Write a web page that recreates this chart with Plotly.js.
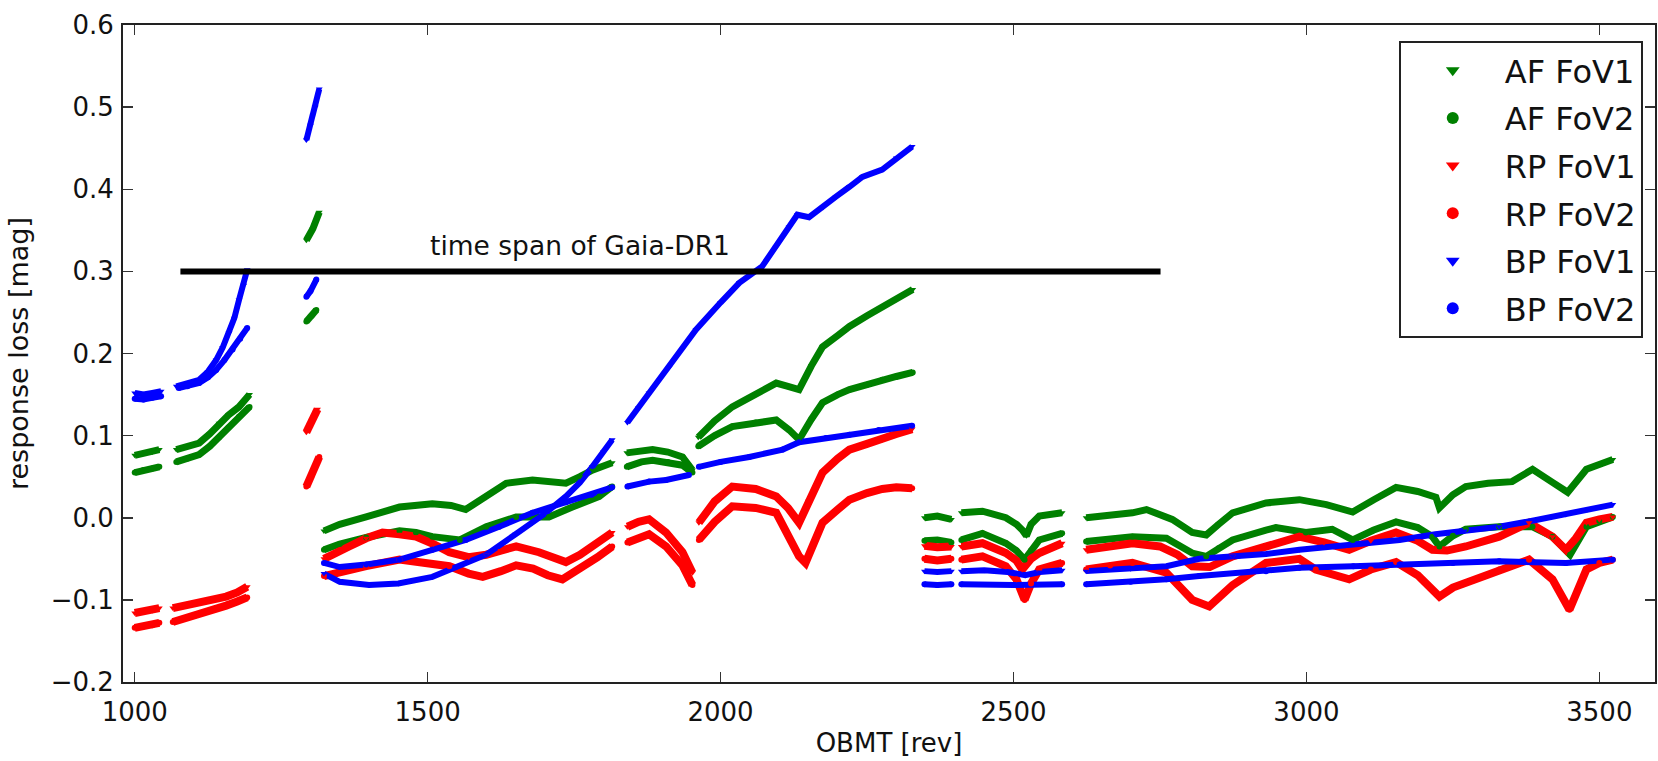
<!DOCTYPE html>
<html>
<head>
<meta charset="utf-8">
<script src="https://cdn.plot.ly/plotly-3.0.1.min.js"></script>
<style>html,body{margin:0;padding:0;background:#fff;}#chart{width:1658px;height:761px;}</style>
</head>
<body>
<div id="chart"></div>
<script>
const seriesNames = ["AF FoV1", "AF FoV2", "RP FoV1", "RP FoV2", "BP FoV1", "BP FoV2"];

const afFov1X = [1000,1015,1030,1042,null,1071,1090,1110,1128,1144,1160,1178,1196,null,1293,1304,1315,null,
  1323,1350,1395,1452,1508,1540,1565,1600,1634,1679,1710,1736,1760,1781,1815,null,
  1840,1865,1884,1910,1935,1952,null,
  1962,1990,2020,2060,2095,2115,2134,2155,2174,2200,2220,2250,2276,2300,2328,null,
  2348,2370,2394,null,2411,2447,2487,2505,2515,2522,2530,2544,2583,null,
  2624,2665,2703,2727,2771,2805,2829,2850,2874,2931,2988,3034,3079,3115,3153,3190,3221,3227,3250,3272,3310,3351,3386,3420,3446,3478,3500,3523];
const afFov1Y = [0.076,0.079,0.080,0.083,null,0.083,0.086,0.091,0.102,0.115,0.125,0.135,0.150,null,0.338,0.352,0.372,null,
  -0.016,-0.008,0.001,0.013,0.017,0.015,0.010,0.025,0.042,0.046,0.044,0.042,0.050,0.058,0.067,null,
  0.079,0.082,0.083,0.080,0.074,0.058,null,
  0.098,0.118,0.135,0.150,0.164,0.160,0.156,0.185,0.208,0.222,0.233,0.246,0.257,0.266,0.278,null,
  0.000,0.002,-0.002,null,0.006,0.008,0.000,-0.008,-0.015,-0.022,-0.008,0.002,0.006,null,
  0.000,0.003,0.006,0.010,-0.002,-0.018,-0.021,-0.008,0.006,0.018,0.022,0.016,0.007,0.022,0.037,0.032,0.025,0.012,0.028,0.038,0.042,0.044,0.059,0.043,0.031,0.059,0.066,0.071];

const afFov2X = [1000,1015,1030,1042,null,1071,1090,1110,1128,1144,1160,1178,1196,null,1293,1302,1310,null,
  1323,1350,1395,1452,1480,1508,1555,1600,1651,1707,1747,1793,1815,null,
  1840,1865,1884,1910,1935,1952,null,
  1962,1990,2020,2060,2095,2117,2134,2155,2174,2200,2220,2250,2276,2300,2328,null,
  2348,2370,2394,null,2411,2447,2487,2505,2519,2530,2544,2583,null,
  2624,2665,2703,2761,2805,2829,2850,2874,2931,2948,2999,3044,3079,3115,3153,3190,3215,3227,3250,3272,3329,3386,3420,3450,3478,3500,3523];
const afFov2Y = [0.055,0.058,0.060,0.062,null,0.068,0.072,0.077,0.087,0.098,0.110,0.123,0.135,null,0.239,0.246,0.253,null,
  -0.039,-0.032,-0.024,-0.016,-0.018,-0.023,-0.027,-0.011,0.001,0.001,0.013,0.026,0.038,null,
  0.062,0.068,0.070,0.068,0.064,0.055,null,
  0.087,0.100,0.111,0.116,0.119,0.107,0.095,0.120,0.140,0.150,0.156,0.162,0.168,0.172,0.177,null,
  -0.028,-0.027,-0.030,null,-0.027,-0.019,-0.031,-0.040,-0.051,-0.040,-0.027,-0.019,null,
  -0.029,-0.026,-0.023,-0.025,-0.043,-0.047,-0.037,-0.027,-0.015,-0.012,-0.018,-0.014,-0.027,-0.015,-0.005,-0.012,-0.023,-0.035,-0.022,-0.014,-0.011,-0.011,-0.023,-0.045,-0.011,-0.004,0.001];

const rpFov1X = [1000,1015,1030,1042,null,1065,1090,1110,1135,1156,1175,1192,null,1293,1303,1312,null,
  1323,1340,1366,1395,1423,1452,1480,1510,1537,1570,1600,1625,1651,1690,1720,1736,1760,1781,1815,null,
  1841,1860,1878,1907,1935,1952,null,
  1963,1990,2020,2060,2095,2115,2134,2150,2174,2200,2220,2250,2276,2300,2327,null,
  2348,2370,2394,null,2411,2447,2487,2505,2515,2530,2544,2583,null,
  2624,2665,2703,2750,2780,2805,2835,2874,2948,2988,3030,3073,3110,3153,3190,3215,3240,3272,3329,3380,3420,3443,3460,3478,3500,3523];
const rpFov1Y = [-0.116,-0.114,-0.113,-0.110,null,-0.110,-0.106,-0.103,-0.100,-0.096,-0.091,-0.084,null,0.104,0.118,0.132,null,
  -0.050,-0.045,-0.035,-0.025,-0.018,-0.020,-0.023,-0.032,-0.042,-0.048,-0.045,-0.040,-0.035,-0.042,-0.050,-0.054,-0.045,-0.035,-0.018,null,
  -0.011,-0.005,-0.002,-0.018,-0.042,-0.067,null,
  -0.006,0.020,0.038,0.035,0.026,0.012,-0.006,0.020,0.055,0.072,0.083,0.090,0.095,0.102,0.108,null,
  -0.034,-0.036,-0.035,null,-0.035,-0.031,-0.043,-0.052,-0.063,-0.050,-0.043,-0.031,null,
  -0.039,-0.034,-0.031,-0.035,-0.045,-0.059,-0.060,-0.047,-0.030,-0.023,-0.030,-0.039,-0.028,-0.018,-0.028,-0.039,-0.040,-0.035,-0.023,-0.006,-0.023,-0.039,-0.025,-0.006,-0.002,0.001];

const rpFov2X = [1000,1015,1030,1042,null,1065,1090,1110,1135,1156,1175,1192,null,1293,1304,1315,null,
  1323,1350,1395,1452,1490,1537,1570,1594,1625,1651,1680,1705,1730,1760,1790,1815,null,
  1841,1878,1907,1935,1952,null,
  1963,1990,2020,2060,2095,2115,2134,2145,2160,2174,2200,2220,2250,2276,2300,2327,null,
  2348,2370,2394,null,2411,2447,2487,2505,2519,2530,2544,2583,null,
  2624,2665,2703,2761,2785,2805,2834,2874,2931,2988,3016,3073,3110,3153,3190,3227,3250,3272,3329,3380,3420,3449,3465,3478,3500,3523];
const rpFov2Y = [-0.134,-0.132,-0.131,-0.128,null,-0.127,-0.122,-0.117,-0.112,-0.107,-0.102,-0.097,null,0.038,0.055,0.074,null,
  -0.071,-0.066,-0.059,-0.051,-0.055,-0.059,-0.068,-0.072,-0.065,-0.058,-0.062,-0.070,-0.075,-0.062,-0.048,-0.035,null,
  -0.030,-0.020,-0.035,-0.058,-0.082,null,
  -0.027,-0.005,0.014,0.012,0.006,-0.020,-0.047,-0.055,-0.030,-0.006,0.010,0.022,0.030,0.035,0.037,0.036,null,
  -0.050,-0.052,-0.050,null,-0.051,-0.047,-0.059,-0.075,-0.100,-0.080,-0.063,-0.055,null,
  -0.063,-0.058,-0.055,-0.067,-0.085,-0.100,-0.108,-0.082,-0.055,-0.050,-0.063,-0.075,-0.063,-0.054,-0.070,-0.096,-0.085,-0.079,-0.063,-0.051,-0.075,-0.112,-0.085,-0.063,-0.055,-0.051];

const bpFov1X = [1000,1015,1030,1045,null,1071,1090,1110,1125,1139,1150,1161,1170,1178,1186,1192,null,1293,1300,1308,1315,null,
  1323,1350,1400,1450,1508,1550,1600,1650,1679,1700,1736,1760,1781,1800,1815,null,
  1841,1860,1878,1912,1958,2000,2032,2071,2095,2117,2131,2151,2175,2197,2220,2242,2276,2300,2327,null,
  2348,2370,2394,null,2411,2450,2490,2520,2545,2583,null,
  2624,2700,2761,2817,2874,2931,2988,3050,3100,3159,3220,3270,3329,3390,3443,3480,3523];
const bpFov1Y = [0.152,0.150,0.152,0.154,null,0.160,0.163,0.168,0.178,0.192,0.207,0.225,0.243,0.265,0.283,0.302,null,0.460,0.478,0.500,0.522,null,
  -0.068,-0.078,-0.082,-0.080,-0.072,-0.060,-0.045,-0.020,-0.006,0.005,0.026,0.043,0.062,0.080,0.095,null,
  0.116,0.134,0.152,0.183,0.229,0.262,0.286,0.306,0.330,0.354,0.369,0.366,0.378,0.391,0.403,0.415,0.424,0.438,0.452,null,
  -0.065,-0.066,-0.065,null,-0.065,-0.064,-0.066,-0.070,-0.066,-0.064,null,
  -0.065,-0.062,-0.059,-0.050,-0.047,-0.044,-0.039,-0.035,-0.031,-0.027,-0.020,-0.016,-0.011,-0.003,0.004,0.010,0.016];

const bpFov2X = [1000,1015,1030,1045,null,1075,1090,1110,1125,1139,1153,1167,1180,1192,null,1293,1300,1310,null,
  1323,1350,1395,1452,1508,1565,1622,1679,1736,1780,1815,null,
  1841,1878,1907,1946,null,
  1963,2000,2049,2106,2134,2180,2220,2270,2327,null,
  2348,2370,2394,null,2411,2500,2583,null,
  2624,2700,2761,2817,2931,2988,3080,3159,3250,3329,3443,3523];
const bpFov2Y = [0.145,0.144,0.146,0.148,null,0.158,0.160,0.164,0.171,0.180,0.192,0.205,0.218,0.231,null,0.269,0.276,0.290,null,
  -0.055,-0.060,-0.057,-0.051,-0.039,-0.027,-0.011,0.006,0.019,0.028,0.037,null,
  0.038,0.044,0.046,0.052,null,
  0.062,0.068,0.074,0.083,0.092,0.097,0.101,0.107,0.112,null,
  -0.081,-0.082,-0.081,null,-0.081,-0.082,-0.081,null,
  -0.081,-0.078,-0.075,-0.071,-0.065,-0.061,-0.059,-0.057,-0.055,-0.053,-0.055,-0.051];

// Gaia-DR1 time span marker
const drSpanX = [1078, 2751];
const drSpanY = [0.30, 0.30];
const drSpanLabel = "time span of Gaia-DR1";
const drLabelX = 1500;
const drLabelY = 0.331;

const xTickVals = [1000, 1500, 2000, 2500, 3000, 3500];
const yTickVals = [-0.2, -0.1, 0.0, 0.1, 0.2, 0.3, 0.4, 0.5, 0.6];

// ---- Build traces ----
const GREEN = "#008000", RED = "#ff0000", BLUE = "#0000ff";
const series = [
  {name: seriesNames[0], x: afFov1X, y: afFov1Y, color: GREEN, symbol: "triangle-down", w: 7},
  {name: seriesNames[1], x: afFov2X, y: afFov2Y, color: GREEN, symbol: "circle", w: 7},
  {name: seriesNames[2], x: rpFov1X, y: rpFov1Y, color: RED, symbol: "triangle-down", w: 8},
  {name: seriesNames[3], x: rpFov2X, y: rpFov2Y, color: RED, symbol: "circle", w: 8},
  {name: seriesNames[4], x: bpFov1X, y: bpFov1Y, color: BLUE, symbol: "triangle-down", w: 6},
  {name: seriesNames[5], x: bpFov2X, y: bpFov2Y, color: BLUE, symbol: "circle", w: 6}
];

const traces = [];
series.forEach((s, i) => {
  traces.push({
    type: "scatter", mode: "lines", x: s.x, y: s.y, connectgaps: false,
    line: {color: s.color, width: s.w},
    legendgroup: "g" + i, showlegend: false, hoverinfo: "skip"
  });
});
series.forEach((s, i) => {
  traces.push({
    type: "scatter", mode: "markers", name: s.name, x: s.x, y: s.y,
    marker: {color: s.color, symbol: s.symbol, size: 6},
    legendgroup: "g" + i
  });
});
traces.push({
  type: "scatter", mode: "lines", x: drSpanX, y: drSpanY,
  line: {color: "#000000", width: 6}, showlegend: false, hoverinfo: "skip"
});

const layout = {
  width: 1658, height: 761,
  margin: {l: 123, r: 3, t: 25, b: 79, pad: 0},
  paper_bgcolor: "#ffffff", plot_bgcolor: "#ffffff",
  font: {family: "DejaVu Sans", size: 26, color: "#111111"},
  showlegend: true,
  xaxis: {
    range: [980, 3595], tickvals: xTickVals, tickformat: "d",
    ticks: "inside", ticklen: 10, tickwidth: 1.5, tickcolor: "#333",
    showline: true, linecolor: "#222", linewidth: 2, mirror: "ticks",
    showgrid: false, zeroline: false, ticklabelstandoff: 6,
    tickfont: {size: 26, family: "DejaVu Sans", color: "#111"},
    title: {text: "OBMT [rev]", font: {size: 26, family: "DejaVu Sans", color: "#111"}, standoff: 8}
  },
  yaxis: {
    range: [-0.2, 0.6], tickvals: yTickVals, tickformat: ".1f",
    ticks: "inside", ticklen: 10, tickwidth: 1.5, tickcolor: "#333",
    showline: true, linecolor: "#222", linewidth: 2, mirror: "ticks",
    showgrid: false, zeroline: false, ticklabelstandoff: 2,
    tickfont: {size: 26, family: "DejaVu Sans", color: "#111"},
    title: {text: "response loss [mag]", font: {size: 27, family: "DejaVu Sans", color: "#111"}, standoff: 14}
  },
  legend: {
    x: 0.992, y: 0.9756, xanchor: "right", yanchor: "top",
    bgcolor: "#ffffff", bordercolor: "#222", borderwidth: 2,
    font: {size: 32, family: "DejaVu Sans", color: "#111"},
    traceorder: "grouped", tracegroupgap: 3, itemwidth: 94, itemsizing: "constant"
  },
  annotations: [{
    x: drLabelX, y: drLabelY, xref: "x", yref: "y", text: drSpanLabel,
    showarrow: false, xanchor: "left", yanchor: "middle",
    font: {size: 26.5, family: "DejaVu Sans", color: "#111"}
  }]
};

Plotly.newPlot("chart", traces, layout, {staticPlot: true, displayModeBar: false});
</script>
</body>
</html>
